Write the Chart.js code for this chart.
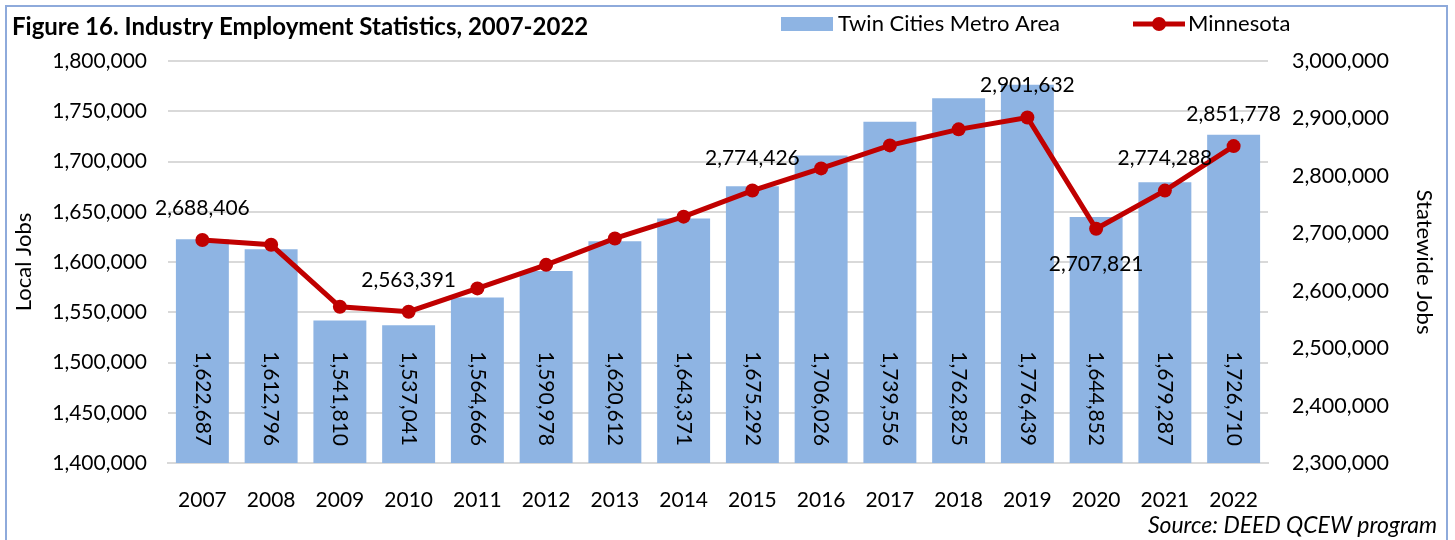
<!DOCTYPE html>
<html>
<head>
<meta charset="utf-8">
<script src="https://cdn.jsdelivr.net/npm/chart.js@4.4.1/dist/chart.umd.min.js"></script>
<style>
  html, body { margin: 0; padding: 0; background: #fff; }
  #wrap { width: 1455px; height: 540px; position: relative; }
</style>
</head>
<body>
<div id="wrap"><canvas id="chart" width="1455" height="540"></canvas></div>
<script>
// chart data
const years = ['2007', '2008', '2009', '2010', '2011', '2012', '2013', '2014',
               '2015', '2016', '2017', '2018', '2019', '2020', '2021', '2022'];
const metroJobs = [1622687, 1612796, 1541810, 1537041, 1564666, 1590978, 1620612, 1643371,
                   1675292, 1706026, 1739556, 1762825, 1776439, 1644852, 1679287, 1726710];
const stateJobs = [2688406, 2680000, 2572000, 2563391, 2604000, 2645000, 2691000, 2729000,
                   2774426, 2813000, 2853000, 2881000, 2901632, 2707821, 2774288, 2851778];
// years whose Minnesota value is labelled, and which of them sit below the point
const labelledYears = ['2007', '2010', '2015', '2019', '2020', '2021', '2022'];
const labelBelowYears = ['2020'];

const titleText = 'Figure 16. Industry Employment Statistics, 2007-2022';
const sourceText = 'Source: DEED QCEW program';
const barName = 'Twin Cities Metro Area';
const lineName = 'Minnesota';

const FONT = 'Lato, "Open Sans", sans-serif';
const BAR_COLOR = '#8eb4e3';
const LINE_COLOR = '#c00000';
const fmt = v => Number(v).toLocaleString('en-US');

// draws the data labels, the title, the legend, the source note and the frame
const extras = {
    id: 'extras',
    afterDatasetsDraw(chart) {
        const ctx = chart.ctx;
        const bottom = chart.chartArea.bottom;
        ctx.save();
        ctx.fillStyle = '#000';
        ctx.font = '21px ' + FONT;

        // rotated labels inside the base of each bar
        chart.getDatasetMeta(0).data.forEach((bar, i) => {
            ctx.save();
            ctx.translate(bar.x, bottom - 17);
            ctx.rotate(Math.PI / 2);
            ctx.textAlign = 'right';
            ctx.textBaseline = 'middle';
            ctx.fillStyle = '#000';
            ctx.fillText(fmt(metroJobs[i]), 0, 0);
            ctx.restore();
        });

        // line value labels
        ctx.textAlign = 'center';
        ctx.textBaseline = 'middle';
        chart.getDatasetMeta(1).data.forEach((pt, i) => {
            if (!labelledYears.includes(years[i])) return;
            const dy = labelBelowYears.includes(years[i]) ? 35 : -32;
            ctx.fillText(fmt(stateJobs[i]), pt.x, pt.y + dy);
        });
        ctx.restore();
    },
    afterDraw(chart) {
        const ctx = chart.ctx;
        ctx.save();

        // frame
        ctx.strokeStyle = '#8eaadb';
        ctx.lineWidth = 2;
        ctx.beginPath();
        ctx.moveTo(6, 540);
        ctx.lineTo(6, 6);
        ctx.lineTo(1447, 6);
        ctx.lineTo(1447, 540);
        ctx.stroke();

        // title
        ctx.fillStyle = '#000';
        ctx.textBaseline = 'middle';
        ctx.textAlign = 'left';
        ctx.font = 'bold 24px ' + FONT;
        ctx.fillText(titleText, 12, 27);

        // legend
        ctx.font = '22px ' + FONT;
        ctx.fillStyle = BAR_COLOR;
        ctx.fillRect(781, 17, 52, 14);
        ctx.fillStyle = '#000';
        ctx.fillText(barName, 838, 24);

        ctx.strokeStyle = LINE_COLOR;
        ctx.lineWidth = 5;
        ctx.beginPath();
        ctx.moveTo(1133, 24);
        ctx.lineTo(1185, 24);
        ctx.stroke();
        ctx.fillStyle = LINE_COLOR;
        ctx.beginPath();
        ctx.arc(1159, 24, 7, 0, Math.PI * 2);
        ctx.fill();
        ctx.fillStyle = '#000';
        ctx.fillText(lineName, 1188, 24);

        // source
        ctx.font = 'italic 23px ' + FONT;
        ctx.textAlign = 'right';
        ctx.fillText(sourceText, 1437, 526);
        ctx.restore();
    }
};

new Chart(document.getElementById('chart'), {
    data: {
        labels: years,
        datasets: [
            {
                type: 'bar',
                label: barName,
                data: metroJobs,
                yAxisID: 'y',
                backgroundColor: BAR_COLOR,
                categoryPercentage: 1,
                barPercentage: 0.77,
                order: 2
            },
            {
                type: 'line',
                label: lineName,
                data: stateJobs,
                yAxisID: 'y2',
                borderColor: LINE_COLOR,
                borderWidth: 5,
                pointRadius: 7,
                pointBorderWidth: 0,
                pointBackgroundColor: LINE_COLOR,
                tension: 0,
                order: 1
            }
        ]
    },
    options: {
        responsive: false,
        animation: false,
        layout: { padding: { top: 61, bottom: 32, left: 0, right: 0 } },
        plugins: {
            legend: { display: false },
            title: { display: false },
            tooltip: { enabled: false }
        },
        scales: {
            x: {
                grid: { display: false },
                border: { color: '#d9d9d9', width: 2 },
                ticks: { color: '#000', font: { family: FONT, size: 21 }, padding: 17, maxRotation: 0 },
                afterFit: s => { s.height = 45; }
            },
            y: {
                position: 'left',
                min: 1400000,
                max: 1800000,
                grid: { color: '#d9d9d9', lineWidth: 2, drawTicks: false },
                border: { display: false },
                ticks: { stepSize: 50000, color: '#000', font: { family: FONT, size: 21 }, padding: 21, callback: v => fmt(v) },
                title: { display: true, text: 'Local Jobs', color: '#000', font: { family: FONT, size: 22 }, padding: { top: 11 } },
                afterFit: s => { s.width = 168; }
            },
            y2: {
                position: 'right',
                min: 2300000,
                max: 3000000,
                grid: { display: false, drawTicks: false },
                border: { display: false },
                ticks: { stepSize: 100000, color: '#000', font: { family: FONT, size: 21.5 }, padding: 24, callback: v => fmt(v) },
                title: { display: true, text: 'Statewide Jobs', color: '#000', font: { family: FONT, size: 22 }, padding: { top: 18 } },
                afterFit: s => { s.width = 187; }
            }
        }
    },
    plugins: [extras]
});
</script>
</body>
</html>
